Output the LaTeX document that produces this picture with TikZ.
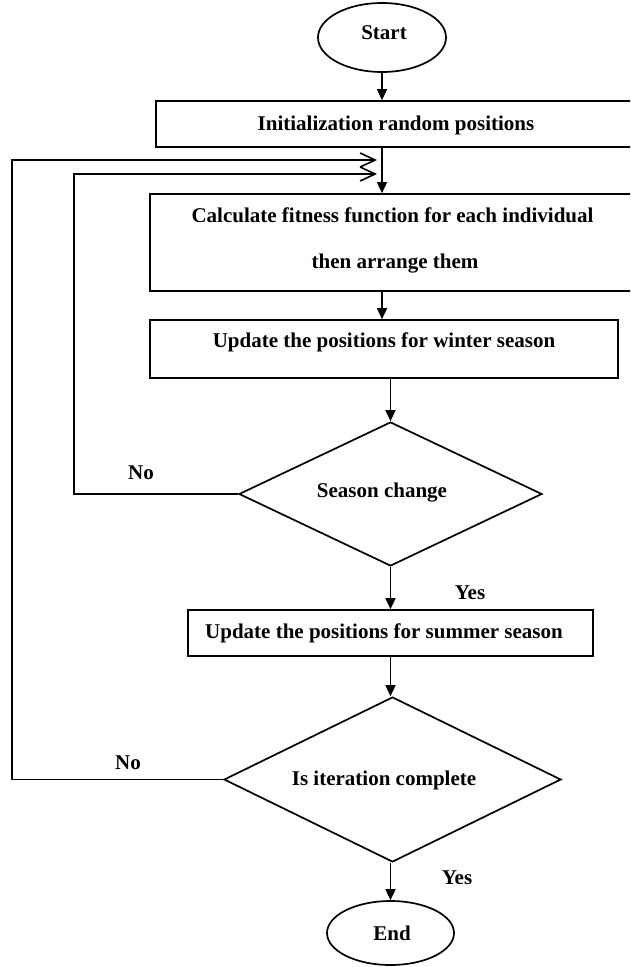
\documentclass[tikz,border=0pt]{standalone}
\usepackage{fontspec}
\setmainfont{Liberation Serif}
\usetikzlibrary{shapes.geometric,arrows.meta}
\begin{document}
\begin{tikzpicture}[x=1pt,y=-1pt,
  shp/.style={draw=black,line width=1.7pt,inner sep=0pt,fill=none},
  boxnode/.style={shp,rectangle},
  oval/.style={shp,ellipse},
  decision/.style={shp,diamond},
  txt/.style={anchor=base,inner sep=0pt,font=\fontsize{21}{25}\selectfont\bfseries},
  arr/.style={line width=1.6pt,-{Triangle[length=11pt,width=10pt]}},
  back/.style={line width=1.6pt,-{Straight Barb[length=15pt,width=14pt]}}]
\useasboundingbox (0,0) rectangle (630,967);
\clip (0,0) rectangle (630,967);
\fill[white] (0,0) rectangle (630,967);
% shapes
\node[oval,minimum width=128pt,minimum height=69pt] (start) at (382,37.5) {};
\node[boxnode,minimum width=484pt,minimum height=46pt] (init) at (398,124) {};
\node[boxnode,minimum width=490pt,minimum height=97pt] (calc) at (395,242.5) {};
\node[boxnode,minimum width=468pt,minimum height=58pt] (winter) at (384,349) {};
\node[decision,minimum width=303pt,minimum height=144pt] (season) at (390.5,494) {};
\node[boxnode,minimum width=405pt,minimum height=46pt] (summer) at (390.5,633) {};
\node[decision,minimum width=337pt,minimum height=165pt] (iter) at (392.5,779.5) {};
\node[oval,minimum width=127pt,minimum height=64pt] (end) at (390.5,933) {};
% texts
\node[txt] (tstart) at (384,39.3) {Start};
\node[txt] (tinit) at (396,130) {Initialization random positions};
\node[txt] (tcalc1) at (392.5,222) {Calculate fitness function for each individual};
\node[txt] (tcalc2) at (395,268) {then arrange them};
\node[txt] (twinter) at (384,347) {Update the positions for winter season};
\node[txt] (tseason) at (382,497) {Season change};
\node[txt] (tno1) at (141,479) {No};
\node[txt] (tyes1) at (470,599) {Yes};
\node[txt] (tsummer) at (384,638) {Update the positions for summer season};
\node[txt] (titer) at (384,785) {Is iteration complete};
\node[txt] (tno2) at (128,769) {No};
\node[txt] (tyes2) at (457,884) {Yes};
\node[txt] (tend) at (392,940) {End};
% helper coordinates
\coordinate (k1) at (74,174);
\coordinate (t1) at (377,174);
\coordinate (k2) at (12,160);
\coordinate (t2) at (377,160);
\coordinate (ax) at (382,0);
\coordinate (bx) at (390.5,0);
% connectors
\draw[arr] (start.south) -- (start.south |- init.north);
\draw[arr] (ax |- init.south) -- (ax |- calc.north);
\draw[arr] (ax |- calc.south) -- (ax |- winter.north);
\draw[arr] (season.north |- winter.south) -- (season.north);
\draw[arr] (season.south) -- (season.south |- summer.north);
\draw[arr] (bx |- summer.south) -- (bx |- iter.north);
\draw[arr] (bx |- iter.south) -- (end.north);
\draw[back] (season.west) -| (k1) -- (t1);
\draw[back] (iter.west) -| (k2) -- (t2);
\end{tikzpicture}
\end{document}
